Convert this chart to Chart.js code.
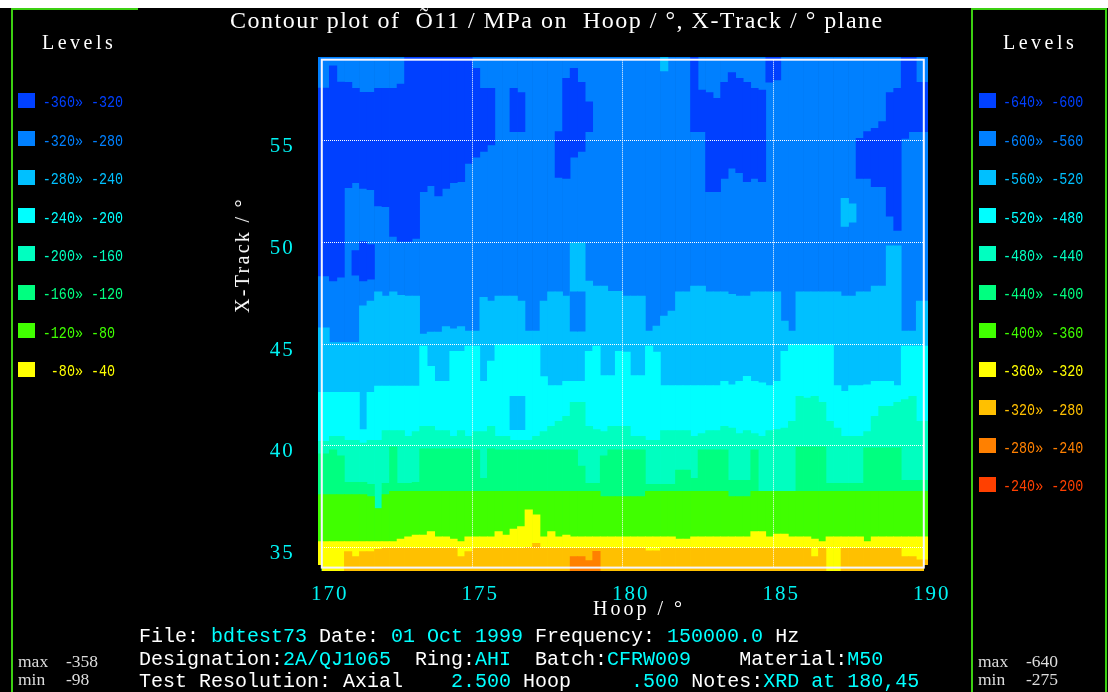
<!DOCTYPE html>
<html>
<head>
<meta charset="utf-8">
<title>Contour plot of σ11 / MPa</title>
<script src="https://cdn.jsdelivr.net/npm/chart.js@4.4.1/dist/chart.umd.min.js"></script>
<style>
  html, body { margin: 0; padding: 0; background: #000; }
  #wrap { position: relative; width: 1108px; height: 692px; overflow: hidden; background: #000; }
  #plot { position: absolute; left: 0; top: 0; }
  .txt { position: absolute; white-space: pre; line-height: 1; }
  .serif { font-family: "Liberation Serif", serif; color: #fff; }
  .mono { font-family: "Liberation Mono", monospace; font-size: 20px; }
  .gl { position: absolute; background: #3ccf12; }
  .sw { position: absolute; width: 17px; height: 15px; box-sizing: border-box; }
  .lev { position: absolute; font-family: "Liberation Mono", monospace; font-size: 13.4px; line-height: 1;
         white-space: pre; transform: scale(1, 1.3); transform-origin: 0 10.3px; }
  .val { color: #00ffff; }
  .lab { color: #ffffff; }
  .mm { position: absolute; font-family: "Liberation Serif", serif; font-size: 17.5px; line-height: 1; color: #ddd; }
</style>
</head>
<body>
<div id="wrap">
  <div style="position:absolute;left:0;top:0;width:1108px;height:8px;background:#fff"></div>
  <canvas id="plot" width="1108" height="692"></canvas>

  <!-- panel frames -->
  <div class="gl" style="left:11px;top:8px;width:127px;height:2px"></div>
  <div class="gl" style="left:11px;top:8px;width:2px;height:684px"></div>
  <div class="gl" style="left:971px;top:8px;width:136px;height:2px"></div>
  <div class="gl" style="left:971px;top:8px;width:2px;height:684px"></div>
  <div class="gl" style="left:1105px;top:8px;width:2px;height:684px"></div>

  <div class="txt serif" style="left:230px;top:8px;font-size:24px;letter-spacing:1.5px">Contour plot of  Õ11 / MPa on  Hoop / °, X-Track / ° plane</div>
  <div class="txt serif" style="left:42px;top:31.5px;font-size:20px;letter-spacing:3.5px">Levels</div>
  <div class="txt serif" style="left:1003px;top:31.5px;font-size:20px;letter-spacing:3.5px">Levels</div>
  <div class="txt serif" style="left:242px;top:255px;font-size:20px;letter-spacing:2.3px;transform:translate(-50%,-50%) rotate(-90deg)">X-Track / °</div>
  <div class="txt serif" style="left:593px;top:597.7px;font-size:20px;letter-spacing:3px">Hoop / °</div>

  <div id="legendLeft"></div>
  <div id="legendRight"></div>

  <div class="txt mono" style="left:139px;top:627.2px"><span class="lab">File: </span><span class="val">bdtest73</span><span class="lab"> Date: </span><span class="val">01 Oct 1999</span><span class="lab"> Frequency: </span><span class="val">150000.0</span><span class="lab"> Hz</span></div>
  <div class="txt mono" style="left:139px;top:650.2px"><span class="lab">Designation:</span><span class="val">2A/QJ1065</span><span class="lab">  Ring:</span><span class="val">AHI</span><span class="lab">  Batch:</span><span class="val">CFRW009</span><span class="lab">    Material:</span><span class="val">M50</span></div>
  <div class="txt mono" style="left:139px;top:672.2px"><span class="lab">Test Resolution: Axial    </span><span class="val">2.500</span><span class="lab"> Hoop     </span><span class="val">.500</span><span class="lab"> Notes:</span><span class="val">XRD at 180,45</span></div>

  <div class="mm" style="left:18px;top:653.3px">max</div><div class="mm" style="left:66px;top:653.3px">-358</div>
  <div class="mm" style="left:18px;top:670.6px">min</div><div class="mm" style="left:66px;top:670.6px">-98</div>
  <div class="mm" style="left:978px;top:653.3px">max</div><div class="mm" style="left:1026px;top:653.3px">-640</div>
  <div class="mm" style="left:978px;top:670.6px">min</div><div class="mm" style="left:1026px;top:670.6px">-275</div>
</div>

<script>
// column centres along Hoop (deg), 0.25 deg apart
const hoop = [
  170.125,170.375,170.625,170.875,171.125,171.375,171.625,171.875,172.125,172.375,
  172.625,172.875,173.125,173.375,173.625,173.875,174.125,174.375,174.625,174.875,
  175.125,175.375,175.625,175.875,176.125,176.375,176.625,176.875,177.125,177.375,
  177.625,177.875,178.125,178.375,178.625,178.875,179.125,179.375,179.625,179.875,
  180.125,180.375,180.625,180.875,181.125,181.375,181.625,181.875,182.125,182.375,
  182.625,182.875,183.125,183.375,183.625,183.875,184.125,184.375,184.625,184.875,
  185.125,185.375,185.625,185.875,186.125,186.375,186.625,186.875,187.125,187.375,
  187.625,187.875,188.125,188.375,188.625,188.875,189.125,189.375,189.625,189.875
];
const hoopRange = [170, 190];
const trackRange = [34, 59];
const hoopTicks = [170, 175, 180, 185, 190];
const trackTicks = [35, 40, 45, 50, 55];

const levelColors = ['#0040ff', '#0080ff', '#00c0ff', '#00ffff', '#00ffc0', '#00ff80',
                     '#40ff00', '#ffff00', '#ffc000', '#ff8000', '#ff4000'];
const levelsLeft = ['-360» -320', '-320» -280', '-280» -240', '-240» -200', '-200» -160',
                    '-160» -120', '-120» -80', ' -80» -40'];
const levelsRight = ['-640» -600', '-600» -560', '-560» -520', '-520» -480', '-480» -440', '-440» -400',
                     '-400» -360', '-360» -320', '-320» -280', '-280» -240', '-240» -200'];

// darkest band (top of map), one segment per column
const darkTop = [
  57.6, 58.7, 57.9, 57.89, 57.59, 57.39, 57.39, 57.59, 57.59, 57.59,
  57.8, 59, 59, 59, 59, 59, 59, 59, 59, 59,
  58.57, 57.59, 57.59, null, null, 57.59, 57.38, null, null, null,
  null, 55.46, 58.08, 58.57, 57.89, 56.93, null, null, null, null,
  null, null, null, null, null, null, null, null, null, 59,
  57.5, 57.38, 57.1, 57.89, 58.36, 58.08, 57.89, 57.59, 57.5, 59,
  59, null, null, null, null, null, null, null, null, null,
  null, 55.13, 55.46, 55.62, 55.95, 57.38, 57.59, 59, 59, 57.89
];
const darkBottom = [
  48.36, 48.11, 48.3, 52.7, 52.95, 52.67, 52.6, 51.8, 51.77, 50.3,
  50.05, 50.05, 50.2, 52.5, 52.8, 52.3, 52.67, 52.95, 53.0, 53.9,
  54.2, 54.48, 54.8, null, null, 55.46, 55.46, null, null, null,
  null, 53.2, 53.16, 54.2, 54.48, 55.46, null, null, null, null,
  null, null, null, null, null, null, null, null, null, 55.46,
  55.46, 52.5, 52.5, 53.16, 53.66, 53.44, 53.0, 53.16, 53.0, 57.9,
  58.0, null, null, null, null, null, null, null, null, null,
  null, 53.16, 53.16, 52.75, 52.75, 51.3, 50.6, 55.13, 55.46, 55.46
];
// second dark patch near 171 deg
const dark2Hoop = [171.125, 171.375, 171.625];
const dark2Lo = [48.4, 48.11, 48.2];
const dark2Hi = [49.6, 50.05, 49.9];

// upper edge of each warmer band, per column (X-Track deg)
const top2 = [
  45.8, 45.07, 45.07, 45.07, 45.07, 46.88, 47.12, 47.57, 47.37, 47.57,
  47.4, 47.37, 47.37, 45.5, 45.59, 45.59, 45.86, 45.75, 45.86, 45.64,
  45.64, 47.3, 47.12, 47.37, 47.37, 47.37, 47.12, 45.64, 45.64, 47.12,
  47.57, 47.57, 47.37, 50.0, 50.0, 48.1, 47.86, 47.86, 47.6, 47.6,
  47.37, 47.37, 47.37, 45.64, 45.89, 46.38, 46.63, 47.57, 47.57, 47.86,
  47.86, 47.57, 47.57, 47.57, 47.45, 47.37, 47.37, 47.57, 47.57, 47.57,
  47.57, 46.13, 45.64, 47.57, 47.57, 47.57, 47.57, 47.57, 47.57, 47.37,
  47.37, 47.57, 47.57, 47.86, 47.86, 49.84, 49.84, 45.64, 45.64, 47.12
];
const top3 = [
  42.63, 42.63, 42.63, 42.63, 42.63, 40.79, 42.63, 42.93, 42.93, 42.93,
  42.93, 42.93, 42.93, 44.9, 43.91, 43.17, 43.17, 44.65, 44.65, 44.9,
  44.9, 43.17, 44.16, 44.98, 44.98, 44.98, 44.98, 44.98, 44.98, 43.4,
  42.96, 42.96, 43.17, 43.17, 43.17, 44.65, 44.9, 43.45, 43.45, 44.65,
  44.61, 43.45, 43.45, 44.9, 44.61, 42.96, 42.96, 42.96, 42.96, 42.96,
  42.96, 42.96, 42.96, 43.17, 43.0, 43.17, 43.42, 43.17, 43.1, 42.96,
  43.17, 44.65, 44.98, 44.98, 44.98, 44.98, 44.98, 44.98, 42.96, 42.68,
  42.96, 42.96, 43.0, 43.17, 43.17, 43.17, 42.96, 44.9, 44.9, 44.9
];
const top4 = [
  40.21, 40.46, 40.46, 40.26, 40.26, 40.13, 40.26, 40.26, 40.74, 40.74,
  40.74, 40.46, 40.7, 40.95, 40.95, 40.74, 40.74, 40.46, 40.74, 40.46,
  40.7, 40.7, 40.95, 40.46, 40.46, 40.26, 40.26, 40.26, 40.46, 40.7,
  40.95, 41.2, 41.45, 42.14, 42.14, 40.95, 40.79, 40.7, 40.95, 40.95,
  40.95, 40.46, 40.46, 40.26, 40.26, 40.74, 40.74, 40.74, 40.74, 40.46,
  40.6, 40.74, 40.74, 40.95, 40.87, 40.6, 40.74, 40.6, 40.46, 40.74,
  40.79, 40.87, 41.2, 42.43, 42.35, 42.43, 42.14, 41.2, 40.87, 40.46,
  40.46, 40.46, 40.7, 41.45, 41.94, 41.94, 42.14, 42.27, 42.43, 41.2
];
const top5 = [
  39.6, 39.8, 39.5, 38.2, 38.2, 38.2, 38.1, 36.9, 38.15, 39.95,
  38.15, 38.15, 38.2, 39.85, 39.85, 39.85, 39.85, 39.85, 39.85, 39.85,
  39.8, 38.4, 39.85, 39.8, 39.8, 39.8, 39.8, 39.8, 39.8, 39.8,
  39.8, 39.8, 39.8, 39.8, 39.0, 38.15, 38.15, 39.5, 39.8, 39.8,
  39.8, 39.8, 39.8, 38.1, 38.1, 38.1, 38.1, 38.8, 38.8, 38.4,
  39.8, 39.8, 39.8, 39.8, 38.3, 38.3, 38.3, 39.8, 37.75, 37.75,
  37.75, 37.75, 37.75, 39.95, 39.95, 39.95, 39.95, 38.15, 38.15, 38.15,
  38.15, 38.15, 39.9, 39.9, 39.9, 39.9, 39.9, 38.3, 38.3, 38.3
];
const top6 = [
  37.6, 37.6, 37.6, 37.6, 37.6, 37.6, 37.5, 36.9, 37.6, 37.75,
  37.75, 37.75, 37.75, 37.75, 37.75, 37.75, 37.75, 37.75, 37.75, 37.75,
  37.75, 37.75, 37.75, 37.75, 37.75, 37.75, 37.75, 37.75, 37.75, 37.75,
  37.75, 37.75, 37.75, 37.75, 37.75, 37.75, 37.75, 37.5, 37.5, 37.5,
  37.5, 37.5, 37.5, 37.75, 37.75, 37.75, 37.75, 37.75, 37.75, 37.75,
  37.75, 37.75, 37.75, 37.75, 37.5, 37.5, 37.5, 37.75, 37.75, 37.75,
  37.75, 37.75, 37.75, 37.75, 37.75, 37.75, 37.75, 37.75, 37.75, 37.75,
  37.75, 37.75, 37.75, 37.75, 37.75, 37.75, 37.75, 37.75, 37.75, 37.75
];
const top7 = [
  35.28, 35.28, 35.28, 35.28, 35.28, 35.28, 35.28, 35.28, 35.28, 35.28,
  35.4, 35.52, 35.6, 35.6, 35.77, 35.52, 35.52, 35.4, 35.28, 35.52,
  35.52, 35.52, 35.52, 35.77, 35.6, 35.9, 36.02, 36.84, 36.6, 35.52,
  35.77, 35.52, 35.6, 35.52, 35.52, 35.52, 35.52, 35.52, 35.52, 35.52,
  35.52, 35.52, 35.52, 35.52, 35.52, 35.52, 35.52, 35.4, 35.4, 35.52,
  35.52, 35.52, 35.52, 35.52, 35.52, 35.52, 35.52, 35.77, 35.77, 35.52,
  35.65, 35.65, 35.52, 35.52, 35.52, 35.4, 35.28, 35.52, 35.52, 35.52,
  35.52, 35.52, 35.28, 35.52, 35.52, 35.52, 35.52, 35.52, 35.52, 35.52
];
const top8 = [
  null, null, null, 34.79, 34.54, 34.79, 34.79, 34.9, 34.95, 34.95,
  34.95, 34.95, 34.95, 34.95, 34.95, 34.95, 34.95, 34.95, 34.54, 34.79,
  34.95, 34.95, 34.95, 34.95, 34.95, 34.95, 34.95, 35.0, 35.2, 34.95,
  34.95, 34.95, 34.95, 34.95, 34.95, 34.95, 34.95, 34.95, 34.95, 34.95,
  34.95, 34.95, 34.95, 34.83, 34.83, 34.95, 34.95, 34.95, 34.95, 34.95,
  34.95, 34.95, 34.95, 34.95, 34.95, 34.95, 34.95, 34.95, 34.95, 34.95,
  34.95, 34.95, 34.95, 34.95, 34.95, 34.54, 34.95, null, null, 34.95,
  34.95, 34.95, 34.95, 34.95, 34.95, 34.95, 34.95, 34.54, 34.54, 34.38
];
// small patches that break the layering
const patch1Hoop = [178.375, 178.625];
const patch1Lo = [45.64, 45.64];
const patch1Hi = [47.57, 47.57];
const patch2Hoop = [176.375, 176.625, 181.375, 187.375, 187.625];
const patch2Lo = [40.79, 40.79, 58.45, 50.79, 51.0];
const patch2Hi = [42.43, 42.43, 59, 52.18, 51.9];
const orangeHoop = [178.375, 178.625, 178.875, 179.125];
const orangeTop = [34.54, 34.54, 34.35, 34.8];

// ---- legends ----
function buildLegend(id, labels, x) {
  const box = document.getElementById(id);
  labels.forEach((t, i) => {
    const y = 92.7 + 38.4 * i;
    const sw = document.createElement('div');
    sw.className = 'sw';
    sw.style.left = x + 'px';
    sw.style.top = y + 'px';
    sw.style.background = levelColors[i];
    box.appendChild(sw);
    const tx = document.createElement('div');
    tx.className = 'lev';
    tx.textContent = t;
    tx.style.left = (x + 24.5) + 'px';
    tx.style.top = (y + 15 - 10.3) + 'px';
    tx.style.color = levelColors[i];
    box.appendChild(tx);
  });
}
buildLegend('legendLeft', levelsLeft, 18.3);
buildLegend('legendRight', levelsRight, 978.5);

// ---- datasets ----
function band(tops, color) {
  return {
    data: hoop.map((x, i) => ({ x: x, y: tops[i] == null ? null : [trackRange[0], tops[i]] })),
    backgroundColor: color
  };
}
function segs(xs, lo, hi, color) {
  return {
    data: xs.map((x, i) => ({ x: x, y: [lo[i], hi[i]] })),
    backgroundColor: color
  };
}

const layers = [
  { data: hoop.map(x => ({ x: x, y: [trackRange[0], trackRange[1]] })), backgroundColor: levelColors[1] },
  { data: hoop.map((x, i) => ({ x: x, y: darkTop[i] == null ? null : [darkBottom[i], darkTop[i]] })), backgroundColor: levelColors[0] },
  segs(dark2Hoop, dark2Lo, dark2Hi, levelColors[0]),
  band(top2, levelColors[2]),
  segs(patch1Hoop, patch1Lo, patch1Hi, levelColors[1]),
  band(top3, levelColors[3]),
  segs(patch2Hoop, patch2Lo, patch2Hi, levelColors[2]),
  band(top4, levelColors[4]),
  band(top5, levelColors[5]),
  band(top6, levelColors[6]),
  band(top7, levelColors[7]),
  band(top8, levelColors[8]),
  segs(orangeHoop, orangeHoop.map(() => trackRange[0]), orangeTop, levelColors[9])
];
// first dataset is painted last in Chart.js, so reverse the order
layers.forEach((d, i) => { d.order = layers.length - i; });

// stretch the outermost pixels a few px past the frame, like the original map
const edgeFill = {
  id: 'edgeFill',
  afterDatasetsDraw(chart) {
    const { ctx, canvas, chartArea: a } = chart;
    const r = chart.currentDevicePixelRatio;
    const L = Math.ceil(a.left) + 1, R = Math.floor(a.right) - 2;
    const T = Math.ceil(a.top) + 1, B = Math.floor(a.bottom) - 2;
    ctx.save();
    ctx.imageSmoothingEnabled = false;
    ctx.drawImage(canvas, L * r, T * r, r, (B - T) * r, a.left - 4, T, L - a.left + 4, B - T);
    ctx.drawImage(canvas, R * r, T * r, r, (B - T) * r, R, T, a.right + 4 - R, B - T);
    ctx.drawImage(canvas, (a.left - 4) * r, T * r, (a.right - a.left + 8) * r, r, a.left - 4, a.top - 3, a.right - a.left + 8, T - a.top + 3);
    ctx.drawImage(canvas, (a.left - 4) * r, B * r, (a.right - a.left + 8) * r, r, a.left - 4, B, a.right - a.left + 8, a.bottom + 3 - B);
    ctx.restore();
  }
};
const frame = {
  id: 'frame',
  afterDraw(chart) {
    const { ctx, chartArea: a } = chart;
    ctx.save();
    ctx.strokeStyle = '#f4f4ff';
    ctx.lineWidth = 2;
    ctx.strokeRect(a.left, a.top, a.right - a.left, a.bottom - a.top);
    ctx.restore();
  }
};
const spacing = {
  id: 'spacing',
  beforeDraw(chart) { chart.ctx.letterSpacing = '2px'; }
};

const tickFont = { family: 'Liberation Serif', size: 21 };

new Chart(document.getElementById('plot'), {
  type: 'bar',
  data: { datasets: layers },
  options: {
    responsive: false,
    animation: false,
    events: [],
    layout: { padding: { left: 0, right: 184.2, top: 59.7, bottom: 0 } },
    plugins: { legend: { display: false }, tooltip: { enabled: false } },
    datasets: { bar: { barPercentage: 1, categoryPercentage: 1, grouped: false, borderWidth: 0 } },
    scales: {
      x: {
        type: 'linear', min: hoopRange[0], max: hoopRange[1], offset: false,
        afterBuildTicks: s => { s.ticks = hoopTicks.map(v => ({ value: v })); },
        afterFit: s => { s.height = 124.4; },
        grid: {
          offset: false, drawTicks: false, z: 1, lineWidth: 1,
          color: c => (c.tick && (c.tick.value === hoopRange[0] || c.tick.value === hoopRange[1])) ? 'rgba(0,0,0,0)' : '#ffffff'
        },
        border: { display: false, dash: [1, 1] },
        ticks: { color: '#00f4f4', font: tickFont, padding: 14, labelOffset: 8, autoSkip: false, maxRotation: 0 }
      },
      y: {
        type: 'linear', min: trackRange[0], max: trackRange[1],
        afterBuildTicks: s => { s.ticks = trackTicks.map(v => ({ value: v })); },
        afterFit: s => { s.width = 321.8; },
        grid: { drawTicks: false, z: 1, lineWidth: 1, color: '#ffffff' },
        border: { display: false, dash: [1, 1] },
        ticks: { color: '#00f4f4', font: tickFont, padding: 27, labelOffset: 6, autoSkip: false }
      }
    }
  },
  plugins: [edgeFill, frame, spacing]
});
</script>
</body>
</html>
